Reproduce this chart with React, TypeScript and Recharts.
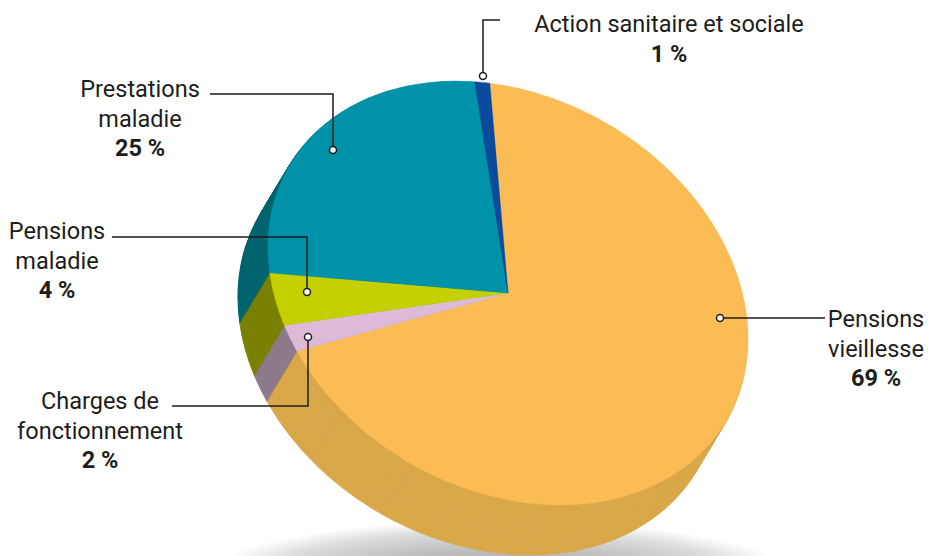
import { Cell, Pie, PieChart } from "recharts";

// budget split, clockwise from the top
const categories = [
  "Pensions vieillesse",
  "Charges de fonctionnement",
  "Pensions maladie",
  "Prestations maladie",
  "Action sanitaire et sociale",
];
const shares = [69, 2, 4, 25, 1];
const labelLines = [
  ["Pensions", "vieillesse"],
  ["Charges de", "fonctionnement"],
  ["Pensions", "maladie"],
  ["Prestations", "maladie"],
  ["Action sanitaire et sociale"],
];
const topColors = ["#fbbb55", "#dcbad8", "#c5d000", "#0092a8", "#0b4a9c"];
const sideColors = ["#d9a84a", "#8d7a8b", "#7b8000", "#00646f", "#08386f"];

const data = categories.map((name, i) => ({ name, value: shares[i] }));

const W = 928;
const H = 556;
const CX = 508;
const CY = 293;
const R = 253;
const START = 118.5;
const TILT = "rotate(30deg) scale(1, 0.776)";
const DEPTH = { x: -30, y: 50 };
const STEPS = 40;
const INK = "#1d1d1b";

// leader lines: marker offset from centre, then polyline, then text block
const labelLayout = [
  { mx: 212, my: 25, path: [[317, 25]], tx: 876, ty: 327 },
  { mx: -200, my: 44, path: [[-200, 113], [-336, 113]], tx: 100, ty: 409 },
  { mx: -201, my: -1, path: [[-201, -56], [-396, -56]], tx: 57, ty: 239 },
  { mx: -175, my: -143, path: [[-175, -199], [-298, -199]], tx: 140, ty: 97 },
  { mx: -25, my: -217, path: [[-25, -273], [-8, -273]], tx: 669, ty: 32 },
];

const sideLayers = Array.from({ length: STEPS }, (_, k) => (STEPS - k) / STEPS);

// only the pie's own <g> gets the tilt, not the sector paths sharing the class
const css =
  `g.recharts-pie.face-top { transform-origin: ${CX}px ${CY}px; transform: ${TILT}; }\n` +
  sideLayers
    .map(
      (t, k) =>
        `g.recharts-pie.face-side-${k} { transform-origin: ${CX}px ${CY}px; transform: translate(${(DEPTH.x * t).toFixed(2)}px, ${(DEPTH.y * t).toFixed(2)}px) ${TILT}; }`
    )
    .join("\n");

function renderLabel(props: any) {
  const { cx, cy, index, value } = props;
  const l = labelLayout[index];
  const lines = labelLines[index];
  const x0 = cx + l.mx;
  const y0 = cy + l.my;
  const pts = [[x0, y0], ...l.path.map(([dx, dy]) => [cx + dx, cy + dy])];
  return (
    <g key={`lbl-${index}`}>
      <polyline
        points={pts.map((p) => p.join(",")).join(" ")}
        fill="none"
        stroke={INK}
        strokeWidth={1.5}
      />
      <circle cx={x0} cy={y0} r={3.5} fill="#fff" stroke={INK} strokeWidth={1.5} />
      <text
        x={l.tx}
        y={l.ty}
        textAnchor="middle"
        fill={INK}
        fontFamily="Roboto, sans-serif"
        fontSize={23.5}
      >
        {lines.map((s, i) => (
          <tspan key={i} x={l.tx} dy={i === 0 ? 0 : 29.5}>
            {s}
          </tspan>
        ))}
        <tspan x={l.tx} dy={29.5} fontWeight={700}>
          {`${value} %`}
        </tspan>
      </text>
    </g>
  );
}

export default function App() {
  return (
    <div style={{ position: "absolute", left: 0, top: 0, width: W, height: H, overflow: "hidden", background: "#fff" }}>
      <style>{css}</style>
      <div
        style={{
          position: "absolute",
          left: 200,
          top: 520,
          width: 600,
          height: 120,
          background:
            "radial-gradient(closest-side, rgba(0,0,0,0.36), rgba(0,0,0,0.26) 50%, rgba(0,0,0,0.14) 80%, rgba(0,0,0,0))",
        }}
      />
      <div style={{ position: "absolute", left: 0, top: 0 }}>
        <PieChart width={W} height={H} margin={{ top: 0, right: 0, bottom: 0, left: 0 }}>
          {sideLayers.map((_, k) => (
            <Pie
              key={`side-${k}`}
              className={`face-side-${k}`}
              data={data}
              dataKey="value"
              cx={CX}
              cy={CY}
              outerRadius={R}
              startAngle={START}
              endAngle={START - 360}
              isAnimationActive={false}
            >
              {data.map((d, i) => (
                <Cell key={d.name} fill={sideColors[i]} stroke={sideColors[i]} strokeWidth={1} />
              ))}
            </Pie>
          ))}
          <Pie
            className="face-top"
            data={data}
            dataKey="value"
            cx={CX}
            cy={CY}
            outerRadius={R}
            startAngle={START}
            endAngle={START - 360}
            isAnimationActive={false}
          >
            {data.map((d, i) => (
              <Cell key={d.name} fill={topColors[i]} stroke={topColors[i]} strokeWidth={0.5} />
            ))}
          </Pie>
          <Pie
            data={data}
            dataKey="value"
            cx={CX}
            cy={CY}
            outerRadius={R}
            startAngle={START}
            endAngle={START - 360}
            fill="transparent"
            stroke="none"
            label={renderLabel}
            labelLine={false}
            isAnimationActive={false}
          />
        </PieChart>
      </div>
    </div>
  );
}
